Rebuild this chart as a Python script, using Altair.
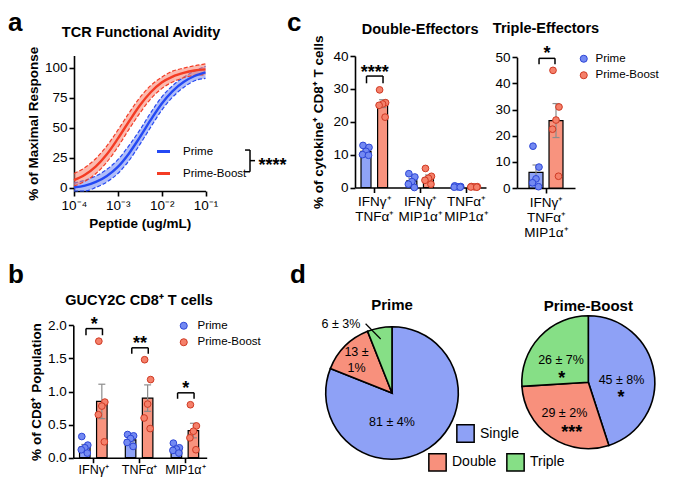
import json
import pandas as pd
import altair as alt

# ------------------------------------------------------------------ data
GROUPS = ["Prime", "Prime-Boost"]

# (a) TCR functional avidity: fitted curve and band edges, read at these log10(conc) points
A_LOG_CONC = [-4.0, -3.75, -3.5, -3.25, -3.0, -2.75, -2.5, -2.25, -2.0, -1.75, -1.5, -1.25, -1.0]
A_PRIME = [0.5, 2.0, 5.0, 10.0, 17.5, 28.5, 42.0, 56.5, 70.0, 80.5, 88.0, 93.0, 96.0]
A_PRIME_LO = [-2.5, -2.5, 0.5, 5.0, 12.0, 22.5, 36.0, 50.5, 64.5, 75.5, 83.5, 89.0, 91.0]
A_PRIME_HI = [4.0, 6.5, 10.0, 15.5, 23.5, 35.0, 48.0, 62.5, 75.5, 85.0, 92.0, 97.0, 101.0]
A_BOOST = [6.5, 11.0, 18.0, 28.0, 41.0, 55.0, 68.5, 79.5, 87.5, 92.5, 95.5, 97.5, 98.5]
A_BOOST_LO = [1.5, 5.5, 12.0, 21.5, 34.0, 48.5, 62.0, 74.0, 82.5, 88.0, 91.5, 93.5, 94.0]
A_BOOST_HI = [12.0, 17.0, 24.5, 35.0, 48.0, 62.0, 75.0, 85.0, 92.0, 97.0, 99.5, 101.5, 103.0]
A_X_TICKS = [1e-4, 1e-3, 1e-2, 1e-1]
A_X_LABELS = ["10⁻⁴", "10⁻³", "10⁻²", "10⁻¹"]
A_Y_TICKS = [0, 25, 50, 75, 100]
A_SIGNIF = "****"

# (b) GUCY2C CD8+ T cells
B_CATS = ["IFNγ⁺", "TNFα⁺", "MIP1α⁺"]
B_PRIME_MEAN = [0.16, 0.27, 0.14]
B_PRIME_SEM = [0.04, 0.03, 0.025]
B_BOOST_MEAN = [0.85, 0.90, 0.41]
B_BOOST_SEM = [0.26, 0.20, 0.11]
B_PRIME_PTS = [[0.32, 0.19, 0.15, 0.12, 0.07], [0.35, 0.33, 0.29, 0.23, 0.17], [0.22, 0.15, 0.13, 0.11, 0.07]]
B_BOOST_PTS = [[1.76, 0.84, 0.78, 0.65, 0.24], [1.48, 1.18, 0.81, 0.60, 0.44], [0.80, 0.48, 0.40, 0.30, 0.12]]
B_SIGNIF = ["*", "**", "*"]
B_BR_TOP = [1.95, 1.66, 0.98]
B_BR_BOTTOM = [1.85, 1.57, 0.89]
B_STAR_Y = [2.085, 1.80, 1.11]
B_Y_TICKS = [0, 0.5, 1.0, 1.5, 2.0]

# (c) Double effectors
C_CATS = [["IFNγ⁺", "TNFα⁺"], ["IFNγ⁺", "MIP1α⁺"], ["TNFα⁺", "MIP1α⁺"]]
C_PRIME_MEAN = [11.0, 2.0, 0.25]
C_PRIME_SEM = [0.6, 0.8, 0.08]
C_BOOST_MEAN = [25.5, 3.0, 0.2]
C_BOOST_SEM = [1.2, 0.8, 0.05]
C_PRIME_PTS = [[12.8, 12.2, 11.0, 10.0, 9.8], [4.2, 3.2, 1.8, 1.0, 0.0], [0.5, 0.3, 0.2, 0.1, 0.1]]
C_BOOST_PTS = [[29.7, 25.8, 25.4, 25.0, 21.4], [5.8, 3.4, 2.8, 2.2, 1.0], [0.3, 0.25, 0.2, 0.15, 0.1]]
C_SIGNIF = ["****"]
C_BR_TOP = [33.9]
C_BR_BOTTOM = [31.7]
C_STAR_Y = [36.4]
C_Y_TICKS = [0, 10, 20, 30, 40]

# (c) Triple effectors
T_CATS = [["IFNγ⁺", "TNFα⁺", "MIP1α⁺"]]
T_PRIME_MEAN = [6.0]
T_PRIME_SEM = [2.8]
T_BOOST_MEAN = [25.8]
T_BOOST_SEM = [6.5]
T_PRIME_PTS = [[16.0, 8.0, 3.5, 2.0, 0.5]]
T_BOOST_PTS = [[45.0, 31.0, 26.0, 22.5, 4.5]]
T_SIGNIF = ["*"]
T_BR_TOP = [49.6]
T_BR_BOTTOM = [47.3]
T_STAR_Y = [53.2]
T_Y_TICKS = [0, 10, 20, 30, 40, 50]

# (d) pies
D_CATS = ["Single", "Double", "Triple"]
D_PRIME = [81, 13, 6]
D_BOOST = [45, 29, 26]
D_PRIME_LABELS = ["81 ± 4%", "13 ±\n1%", "6 ± 3%"]
D_BOOST_LABELS = ["45 ± 8%", "29 ± 2%", "26 ± 7%"]
D_BOOST_SIGNIF = ["*", "***", "*"]

# ------------------------------------------------------------------ style
W, H = 659, 470
FONT = "Liberation Sans, Arial, sans-serif"

BLUE_LINE, RED_LINE = "#2449f4", "#f43c24"
BLUE_BAND, RED_BAND = "#6f87f3", "#f7826e"
BAR_COLORS = ["#8fa3f6", "#f8937e"]
DOT_FILL = ["#7389f2", "#f5806a"]
DOT_STROKE = ["#2d46d6", "#cf3a24"]
PIE_COLORS = ["#8ea1f6", "#f8907c", "#86df86"]
ERR_COLOR = "#8c8c8c"
JITTER_PX = [-3.0, 3.0, 0.0, -3.5, 2.5]
TITLE_SIZE = 14.5
LETTER_SIZE = 26


def lin(domain, rng):
    return alt.Scale(domain=domain, range=rng, nice=False, zero=False)


def text_layer(df, xs, ys, xaxis=None, yaxis=None, **mark):
    return alt.Chart(df).mark_text(**mark).encode(
        x=alt.X("x:Q", scale=xs, axis=xaxis),
        y=alt.Y("y:Q", scale=ys, axis=yaxis),
        text="t:N",
    )


def dot_legend(x, y, label_offset):
    return alt.Legend(orient="none", legendX=x, legendY=y, title=None, symbolType="circle",
                      symbolSize=50, symbolStrokeWidth=1, labelFontSize=11.5, labelOffset=label_offset,
                      rowPadding=3.5, padding=0)


def bar_panel(xs, ys, xaxis, yaxis, centers, pm, ps, bm, bs, ppts, bpts, off, half, step, legend,
              br_lo, br_hi, star_y, signif, br_left, br_right):
    bars, errs, pts, segs, stars = [], [], [], [], []
    cap = 3.5 / step
    for c, m1, s1, m2, s2, p1, p2 in zip(centers, pm, ps, bm, bs, ppts, bpts):
        for g, m, s, pl, sign in ((GROUPS[0], m1, s1, p1, -1), (GROUPS[1], m2, s2, p2, 1)):
            xc = c + sign * off
            bars.append({"group": g, "x1": xc - half, "x2": xc + half, "mean": m, "base": 0.0})
            lo = max(m - s, 0.0)
            errs.append({"x": xc, "x2": xc, "y": lo, "y2": m + s})
            errs.append({"x": xc - cap, "x2": xc + cap, "y": m + s, "y2": m + s})
            errs.append({"x": xc - cap, "x2": xc + cap, "y": lo, "y2": lo})
            for j, v in zip(JITTER_PX, pl):
                pts.append({"group": g, "x": xc + j / step, "v": v})
    for c, lo, hi, sy, st in zip(centers, br_lo, br_hi, star_y, signif):
        xl, xr = c + br_left, c + br_right
        segs += [{"x": xl, "x2": xr, "y": hi, "y2": hi},
                 {"x": xl, "x2": xl, "y": lo, "y2": hi},
                 {"x": xr, "x2": xr, "y": lo, "y2": hi}]
        stars.append({"x": (xl + xr) / 2, "y": sy, "t": st})

    df_bars = pd.DataFrame(bars)
    layers = []
    for g, col in zip(GROUPS, BAR_COLORS):
        layers.append(alt.Chart(df_bars[df_bars["group"] == g]).mark_bar(
            color=col, stroke="black", strokeWidth=1.2).encode(
            x=alt.X("x1:Q", scale=xs, axis=xaxis), x2="x2:Q",
            y=alt.Y("mean:Q", scale=ys, axis=yaxis, stack=None), y2="base:Q",
        ))
    layers.append(alt.Chart(pd.DataFrame(errs)).mark_rule(color=ERR_COLOR, strokeWidth=1.2).encode(
        x=alt.X("x:Q", scale=xs, axis=xaxis), x2="x2:Q",
        y=alt.Y("y:Q", scale=ys, axis=yaxis), y2="y2:Q",
    ))
    layers.append(alt.Chart(pd.DataFrame(pts)).mark_circle(size=45, opacity=1, strokeWidth=1).encode(
        x=alt.X("x:Q", scale=xs, axis=xaxis),
        y=alt.Y("v:Q", scale=ys, axis=yaxis),
        fill=alt.Fill("group:N", scale=alt.Scale(domain=GROUPS, range=DOT_FILL), legend=legend),
        stroke=alt.Stroke("group:N", scale=alt.Scale(domain=GROUPS, range=DOT_STROKE), legend=legend),
    ))
    layers.append(alt.Chart(pd.DataFrame(segs)).mark_rule(color="black", strokeWidth=1.5).encode(
        x=alt.X("x:Q", scale=xs, axis=xaxis), x2="x2:Q",
        y=alt.Y("y:Q", scale=ys, axis=yaxis), y2="y2:Q",
    ))
    layers.append(text_layer(pd.DataFrame(stars), xs, ys, xaxis, yaxis, font=FONT, fontSize=18,
                             fontWeight="bold", baseline="middle", dy=5, color="black"))
    return layers


# ------------------------------------------------------------------ panel a
rows = []
for g, mid, lo, hi in ((GROUPS[0], A_PRIME, A_PRIME_LO, A_PRIME_HI), (GROUPS[1], A_BOOST, A_BOOST_LO, A_BOOST_HI)):
    for e, m, l, h in zip(A_LOG_CONC, mid, lo, hi):
        rows.append({"group": g, "conc": 10 ** e, "mid": m, "lo": l, "hi": h})
df_a = pd.DataFrame(rows)

a_xs = alt.Scale(type="log", domain=[1e-4, 1e-1], range=[66, 197.5], nice=False)
a_ys = lin([-2.5, 110], [183, 47.5])
a_xaxis = alt.Axis(orient="bottom", offset=-287, values=A_X_TICKS,
                   labelExpr=json.dumps(A_X_LABELS, ensure_ascii=False) + "[round(log(datum.value) / LN10) + 4]",
                   title="Peptide (ug/mL)", titlePadding=5)
a_yaxis = alt.Axis(orient="left", offset=-66, values=A_Y_TICKS, title="% of Maximal Response", titlePadding=4)

a_layers = []
for g, band_col, line_col in zip(GROUPS, [BLUE_BAND, RED_BAND], [BLUE_LINE, RED_LINE]):
    d = df_a[df_a["group"] == g]
    a_layers.append(alt.Chart(d).mark_area(color=band_col, opacity=0.55, interpolate="monotone").encode(
        x=alt.X("conc:Q", scale=a_xs, axis=a_xaxis),
        y=alt.Y("lo:Q", scale=a_ys, axis=a_yaxis, stack=None), y2="hi:Q",
    ))
    for col in ("lo", "hi"):
        a_layers.append(alt.Chart(d).mark_line(color=line_col, strokeDash=[4, 2], strokeWidth=1.2,
                                               interpolate="monotone").encode(
            x=alt.X("conc:Q", scale=a_xs, axis=a_xaxis),
            y=alt.Y(f"{col}:Q", scale=a_ys, axis=a_yaxis),
        ))
a_layers.append(alt.Chart(df_a).mark_line(strokeWidth=2.4, interpolate="monotone").encode(
    x=alt.X("conc:Q", scale=a_xs, axis=a_xaxis),
    y=alt.Y("mid:Q", scale=a_ys, axis=a_yaxis),
    color=alt.Color("group:N", scale=alt.Scale(domain=GROUPS, range=[BLUE_LINE, RED_LINE]),
                    legend=alt.Legend(orient="none", legendX=147, legendY=135, title=None,
                                      symbolType="stroke", symbolSize=170, symbolStrokeWidth=3,
                                      labelFontSize=11.5, labelOffset=11, rowPadding=7, padding=0)),
))
a_seg = pd.DataFrame([
    {"x": 0.798, "x2": 1.036, "y": 31.5, "y2": 31.5},
    {"x": 1.036, "x2": 1.036, "y": 13.5, "y2": 31.5},
    {"x": 0.798, "x2": 1.036, "y": 13.5, "y2": 13.5},
    {"x": 1.036, "x2": 1.348, "y": 22.7, "y2": 22.7},
])
a_layers.append(alt.Chart(a_seg).mark_rule(color="black", strokeWidth=1.5).encode(
    x=alt.X("x:Q", scale=a_xs, axis=a_xaxis), x2="x2:Q",
    y=alt.Y("y:Q", scale=a_ys, axis=a_yaxis), y2="y2:Q",
))
a_layers.append(text_layer(pd.DataFrame([{"x": 3.38, "y": 22.4, "t": A_SIGNIF}]), a_xs, a_ys, a_xaxis, a_yaxis,
                           font=FONT, fontSize=18, fontWeight="bold", baseline="middle", dy=5))
a_layers.append(text_layer(pd.DataFrame([{"x": 0.00338, "y": 128.5, "t": "TCR Functional Avidity"}]),
                           a_xs, a_ys, a_xaxis, a_yaxis,
                           font=FONT, fontSize=TITLE_SIZE, fontWeight="bold", baseline="middle"))
a_layers.append(text_layer(pd.DataFrame([{"x": 3.12e-6, "y": 130.3, "t": "a"}]), a_xs, a_ys, a_xaxis, a_yaxis,
                           font=FONT, fontSize=LETTER_SIZE, fontWeight="bold", align="left",
                           baseline="alphabetic"))
panel_a = alt.layer(*a_layers)

# ------------------------------------------------------------------ panel b
b_xs = lin([-0.437, 2.476], [65.3, 198.7])
b_ys = lin([0, 2.0], [449.7, 317.3])
b_xaxis = alt.Axis(orient="bottom", offset=-20.3, values=[0, 1, 2], title=None, labelFontSize=12.5,
                   labelPadding=1, labelExpr=json.dumps(B_CATS, ensure_ascii=False) + "[datum.value]")
b_yaxis = alt.Axis(orient="left", offset=-65.3, values=B_Y_TICKS, format=".1f",
                   title="% of CD8⁺ Population", titlePadding=4)
b_layers = bar_panel(b_xs, b_ys, b_xaxis, b_yaxis, [0, 1, 2], B_PRIME_MEAN, B_PRIME_SEM, B_BOOST_MEAN,
                     B_BOOST_SEM, B_PRIME_PTS, B_BOOST_PTS, 0.186, 0.115, 45.8, dot_legend(170, 312, 8),
                     B_BR_BOTTOM, B_BR_TOP, B_STAR_Y, B_SIGNIF, -0.16, 0.2)
b_layers.append(text_layer(pd.DataFrame([{"x": 1.0, "y": 2.37, "t": "GUCY2C CD8⁺ T cells"}]), b_xs, b_ys,
                           b_xaxis, b_yaxis, font=FONT, fontSize=TITLE_SIZE, fontWeight="bold", baseline="middle"))
b_layers.append(text_layer(pd.DataFrame([{"x": -1.862, "y": 2.639, "t": "b"}]), b_xs, b_ys, b_xaxis, b_yaxis,
                           font=FONT, fontSize=LETTER_SIZE, fontWeight="bold", align="left",
                           baseline="alphabetic"))
panel_b = alt.layer(*b_layers)

# ------------------------------------------------------------------ panel c (double)
c_xs = lin([-0.421, 2.436], [347, 478])
c_ys = lin([0, 40], [179.5, 48])
c_xaxis = alt.Axis(orient="bottom", offset=-290.5, values=[0, 1, 2], title=None,
                   labelExpr=json.dumps(C_CATS, ensure_ascii=False) + "[datum.value]")
c_yaxis = alt.Axis(orient="left", offset=-347, values=C_Y_TICKS,
                   title="% of cytokine⁺ CD8⁺ T cells", titlePadding=7)
c_layers = bar_panel(c_xs, c_ys, c_xaxis, c_yaxis, [0, 1, 2], C_PRIME_MEAN, C_PRIME_SEM, C_BOOST_MEAN,
                     C_BOOST_SEM, C_PRIME_PTS, C_BOOST_PTS, 0.181, 0.109, 45.85, None,
                     C_BR_BOTTOM, C_BR_TOP, C_STAR_Y, C_SIGNIF, -0.17, 0.19)
c_layers.append(text_layer(pd.DataFrame([{"x": 1.0, "y": 48.0, "t": "Double-Effectors"}]), c_xs, c_ys,
                           c_xaxis, c_yaxis, font=FONT, fontSize=TITLE_SIZE, fontWeight="bold", baseline="middle"))
c_layers.append(text_layer(pd.DataFrame([{"x": -1.904, "y": 47.6, "t": "c"}]), c_xs, c_ys, c_xaxis, c_yaxis,
                           font=FONT, fontSize=LETTER_SIZE, fontWeight="bold", align="left",
                           baseline="alphabetic"))
panel_c = alt.layer(*c_layers)

# ------------------------------------------------------------------ panel c (triple)
t_xs = lin([-1, 1], [509, 567])
t_ys = lin([0, 50], [180, 49.3])
t_xaxis = alt.Axis(orient="bottom", offset=-290, values=[0], title=None,
                   labelExpr=json.dumps(T_CATS, ensure_ascii=False) + "[datum.value]")
t_yaxis = alt.Axis(orient="left", offset=-509, values=T_Y_TICKS, title=None)
t_layers = bar_panel(t_xs, t_ys, t_xaxis, t_yaxis, [0], T_PRIME_MEAN, T_PRIME_SEM, T_BOOST_MEAN,
                     T_BOOST_SEM, T_PRIME_PTS, T_BOOST_PTS, 0.345, 0.241, 29.0, dot_legend(570, 45, 6),
                     T_BR_BOTTOM, T_BR_TOP, T_STAR_Y, T_SIGNIF, -0.24, 0.31)
t_layers.append(text_layer(pd.DataFrame([{"x": 0.0, "y": 60.7, "t": "Triple-Effectors"}]), t_xs, t_ys,
                           t_xaxis, t_yaxis, font=FONT, fontSize=TITLE_SIZE, fontWeight="bold", baseline="middle"))
panel_t = alt.layer(*t_layers)


# ------------------------------------------------------------------ panel d (pies)
def pie_panel(values, xr, yr, radius, legend, labels_df, stars_df, extra_texts, rules_df=None):
    xs = lin([-1, 1], xr)
    ys = lin([-1, 1], yr)
    df = pd.DataFrame({"cat": D_CATS, "val": values, "idx": [0, 1, 2]})
    arc = alt.Chart(df).mark_arc(outerRadius=radius, stroke="black", strokeWidth=1.6).encode(
        x=alt.XDatum(0, scale=xs, axis=None),
        y=alt.YDatum(0, scale=ys, axis=None),
        theta=alt.Theta("val:Q", stack=True),
        color=alt.Color("cat:N", scale=alt.Scale(domain=D_CATS, range=PIE_COLORS), legend=legend),
        order=alt.Order("idx:Q"),
    )
    layers = [arc]
    if rules_df is not None:
        layers.append(alt.Chart(rules_df).mark_rule(color="black", strokeWidth=1.2).encode(
            x=alt.X("x:Q", scale=xs, axis=None), x2="x2:Q",
            y=alt.Y("y:Q", scale=ys, axis=None), y2="y2:Q"))
    layers.append(text_layer(labels_df, xs, ys, font=FONT, fontSize=12.5, baseline="middle",
                             lineBreak="\n", lineHeight=16.5))
    if stars_df is not None:
        layers.append(text_layer(stars_df, xs, ys, font=FONT, fontSize=18, fontWeight="bold",
                                 baseline="middle", dy=5))
    for df_t, mk in extra_texts:
        layers.append(text_layer(df_t, xs, ys, **mk))
    return alt.layer(*layers)


pie_legend_common = dict(orient="none", title=None, symbolType="square", symbolSize=300,
                         symbolStrokeColor="black", symbolStrokeWidth=1.5, labelFontSize=14,
                         labelOffset=5, padding=0)
p_labels = pd.DataFrame({"x": [0.0, -0.535, -0.77], "y": [-0.435, 0.623, 1.045], "t": D_PRIME_LABELS})
p_rules = pd.DataFrame([{"x": -0.398, "x2": -0.171, "y": 1.045, "y2": 0.814}])
pie_p = pie_panel(
    D_PRIME, [317.7, 450.3], [451.3, 318.7], 66.3,
    alt.Legend(values=["Single"], legendX=448, legendY=416, **pie_legend_common),
    p_labels, None,
    [(pd.DataFrame([{"x": 0.0, "y": 1.32, "t": "Prime"}]),
      dict(font=FONT, fontSize=15, fontWeight="bold", baseline="middle")),
     (pd.DataFrame([{"x": -1.538, "y": 1.659, "t": "d"}]),
      dict(font=FONT, fontSize=LETTER_SIZE, fontWeight="bold", align="left", baseline="alphabetic"))],
    p_rules,
)
b_labels = pd.DataFrame({"x": [0.5, -0.36, -0.41], "y": [0.03, -0.47, 0.33], "t": D_BOOST_LABELS})
b_stars = pd.DataFrame({"x": [0.49, -0.25, -0.40], "y": [-0.167, -0.684, 0.123], "t": D_BOOST_SIGNIF})
pie_b = pie_panel(
    D_BOOST, [513.8, 646.8], [440.7, 307.7], 66.5,
    alt.Legend(values=["Double", "Triple"], direction="horizontal", legendX=420, legendY=444.5,
               columnPadding=6, **pie_legend_common),
    b_labels, b_stars,
    [(pd.DataFrame([{"x": 0.0, "y": 1.15, "t": "Prime-Boost"}]),
      dict(font=FONT, fontSize=15, fontWeight="bold", baseline="middle"))],
)

# ------------------------------------------------------------------ assemble
chart = (
    alt.layer(panel_a, panel_b, panel_c, panel_t, pie_p, pie_b)
    .resolve_scale(x="independent", y="independent", color="independent", fill="independent",
                   stroke="independent", theta="independent")
    .resolve_axis(x="independent", y="independent")
    .resolve_legend(color="independent", fill="independent", stroke="independent")
    .properties(width=W, height=H, autosize=alt.AutoSizeParams(type="none"), padding=0,
                background="white")
    .configure_view(stroke=None)
    .configure_axis(domainColor="black", domainWidth=1.6, tickColor="black", tickWidth=1.6, tickSize=5,
                    labelFont=FONT, labelFontSize=13.5, labelColor="black", labelPadding=2,
                    labelLineHeight=15, labelFlush=False, labelOverlap=False,
                    titleFont=FONT, titleFontSize=13.5, titleFontWeight="bold", titleColor="black", grid=False)
    .configure_legend(labelFont=FONT, labelColor="black")
    .configure_text(color="black")
)

chart.save("out.html", embed_options={"renderer": "svg", "actions": False})
